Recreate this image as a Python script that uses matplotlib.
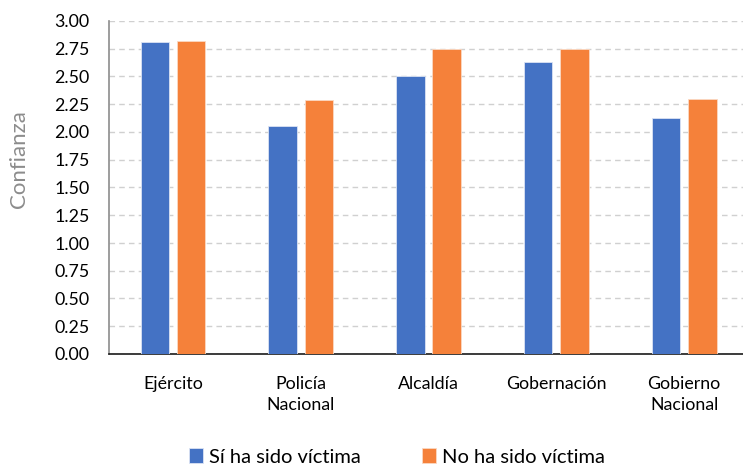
import matplotlib.pyplot as plt
import numpy as np

categories = ['Ejército', 'Policía\nNacional', 'Alcaldía', 'Gobernación', 'Gobierno\nNacional']
si_victima = [2.81, 2.05, 2.50, 2.63, 2.13]
no_victima = [2.82, 2.29, 2.75, 2.75, 2.30]
series_names = ['Sí ha sido víctima', 'No ha sido víctima']
yticks = np.arange(0, 3.01, 0.25)

plt.rcParams['font.family'] = ['Lato', 'DejaVu Sans']

fig = plt.figure(figsize=(7.43, 4.65), dpi=100)
ax = fig.add_axes([109 / 743, 1 - 354 / 465, 1 - 109 / 743, 333 / 465])

x = np.arange(len(categories))
w = 0.223
off = 0.142
ax.bar(x - off, si_victima, w, color='#4472C4', edgecolor='#dbe3f3', linewidth=0.6,
       label=series_names[0], zorder=3)
ax.bar(x + off, no_victima, w, color='#F5813A', edgecolor='#fbd9c3', linewidth=0.6,
       label=series_names[1], zorder=3)

ax.set_ylim(0, 3.0)
ax.set_xlim(-0.5, 4.46)
ax.set_yticks(yticks)
ax.set_yticklabels(['{:.2f}'.format(v) for v in yticks], fontsize=12.8, color='#000000')
ax.set_xticks(x)
ax.set_xticklabels(categories, fontsize=12.8, color='#000000', linespacing=1.4)
ax.tick_params(axis='both', length=0)
ax.tick_params(axis='y', pad=14)
ax.tick_params(axis='x', pad=16)

ax.yaxis.grid(True, color='#d0d0d0', linestyle=(0, (4, 3)), linewidth=1.0, zorder=0)
ax.set_axisbelow(True)
for s in ['top', 'right']:
    ax.spines[s].set_visible(False)
ax.spines['left'].set_color('#8c8c8c')
ax.spines['left'].set_linewidth(1.2)
ax.spines['bottom'].set_color('#1a1a1a')
ax.spines['bottom'].set_linewidth(1.2)

fig.text(19 / 743, 1 - 159 / 465, 'Confianza', rotation=90, fontsize=16,
         color='#8c8c8c', ha='center', va='center')

fig.legend(loc='center', bbox_to_anchor=(397 / 743, 1 - 457 / 465), ncol=2, frameon=False,
           fontsize=14.5, handlelength=0.7, handleheight=0.7, handletextpad=0.3,
           columnspacing=3.0)

fig.savefig('out.png', dpi=100)
